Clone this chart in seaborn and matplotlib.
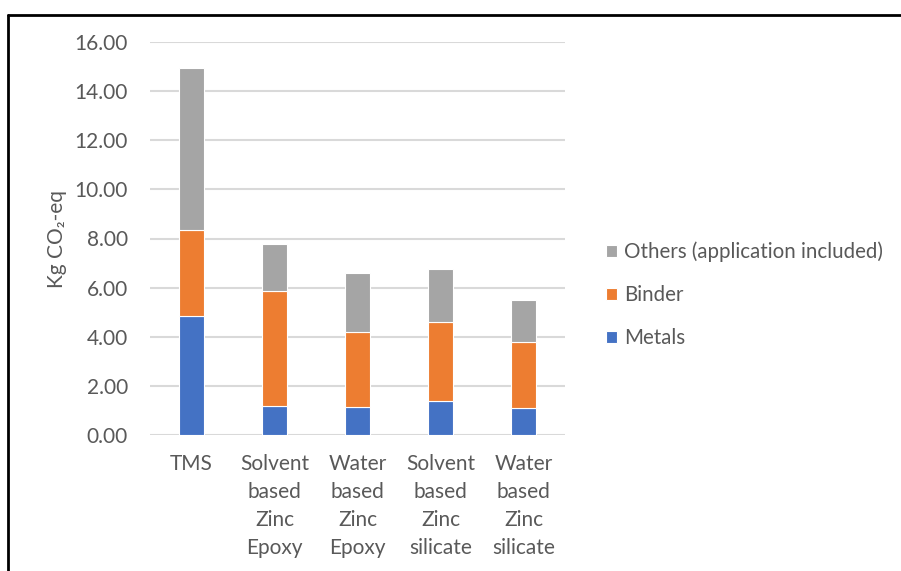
import matplotlib
matplotlib.use("Agg")
import matplotlib.pyplot as plt
from matplotlib.lines import Line2D
import seaborn as sns
import pandas as pd

categories = ["TMS", "Solvent\nbased\nZinc\nEpoxy", "Water\nbased\nZinc\nEpoxy",
              "Solvent\nbased\nZinc\nsilicate", "Water\nbased\nZinc\nsilicate"]
metals = [4.85, 1.19, 1.14, 1.40, 1.11]
binder = [3.50, 4.67, 3.07, 3.21, 2.69]
others = [6.59, 1.90, 2.39, 2.16, 1.71]
yticks = [0, 2, 4, 6, 8, 10, 12, 14, 16]

colors = {"Metals": "#4472C4", "Binder": "#ED7D31", "Others (application included)": "#A5A5A5"}

sns.set_theme(style="white")
plt.rcParams["font.family"] = ["Lato", "DejaVu Sans"]
FS = 15

df = pd.DataFrame({"cat": categories, "Metals": metals, "Binder": binder,
                   "Others (application included)": others})
df["b1"] = df["Metals"]
df["b2"] = df["Metals"] + df["Binder"]

fig = plt.figure(figsize=(9.01, 5.71), dpi=100)
ax = fig.add_axes([150 / 901, 1 - 435 / 571, 415 / 901, (435 - 42) / 571])

ax.set_axisbelow(True)
for y in yticks:
    ax.axhline(y, color="#D9D9D9", lw=1.5, zorder=0)

sns.barplot(data=df, x="cat", y="Metals", color=colors["Metals"], width=0.31,
            edgecolor="white", linewidth=0.8, ax=ax, label="Metals", saturation=1)
sns.barplot(data=df, x="cat", y="Binder", bottom=df["b1"], color=colors["Binder"], width=0.31,
            edgecolor="white", linewidth=0.8, ax=ax, label="Binder", saturation=1)
sns.barplot(data=df, x="cat", y="Others (application included)", bottom=df["b2"],
            color=colors["Others (application included)"], width=0.31,
            edgecolor="white", linewidth=0.8, ax=ax, label="Others (application included)",
            saturation=1)

ax.set_ylim(0, 16)
ax.set_xlim(-0.5, 4.5)
ax.set_yticks(yticks)
ax.set_yticklabels([f"{v:.2f}" for v in yticks], fontsize=FS, color="#595959")
ax.tick_params(axis="x", labelsize=FS, labelcolor="#595959", pad=14, length=0)
ax.tick_params(axis="y", pad=16, length=0)
for lbl in ax.get_xticklabels():
    lbl.set_linespacing(1.5)
ax.set_xlabel("")
ax.set_ylabel("Kg CO₂-eq", fontsize=FS, color="#595959", labelpad=5)
for s in ax.spines.values():
    s.set_visible(False)

handles, labels = ax.get_legend_handles_labels()
order = [labels.index(n) for n in ["Others (application included)", "Binder", "Metals"]]
leg = ax.legend([handles[i] for i in order], [labels[i] for i in order],
                loc="center left", bbox_to_anchor=(587 / 901, 1 - 295 / 571),
                bbox_transform=fig.transFigure, frameon=False, fontsize=14.8,
                handlelength=0.55, handleheight=0.55, handletextpad=0.35,
                labelspacing=1.12, labelcolor="#595959")

# frame lines around the chart
fig.add_artist(Line2D([8 / 901, 1], [1 - 15 / 571, 1 - 15 / 571], color="black", lw=2))
fig.add_artist(Line2D([8 / 901, 8 / 901], [0, 1 - 15 / 571], color="black", lw=2))

fig.savefig("out.png", dpi=100, facecolor="white")
